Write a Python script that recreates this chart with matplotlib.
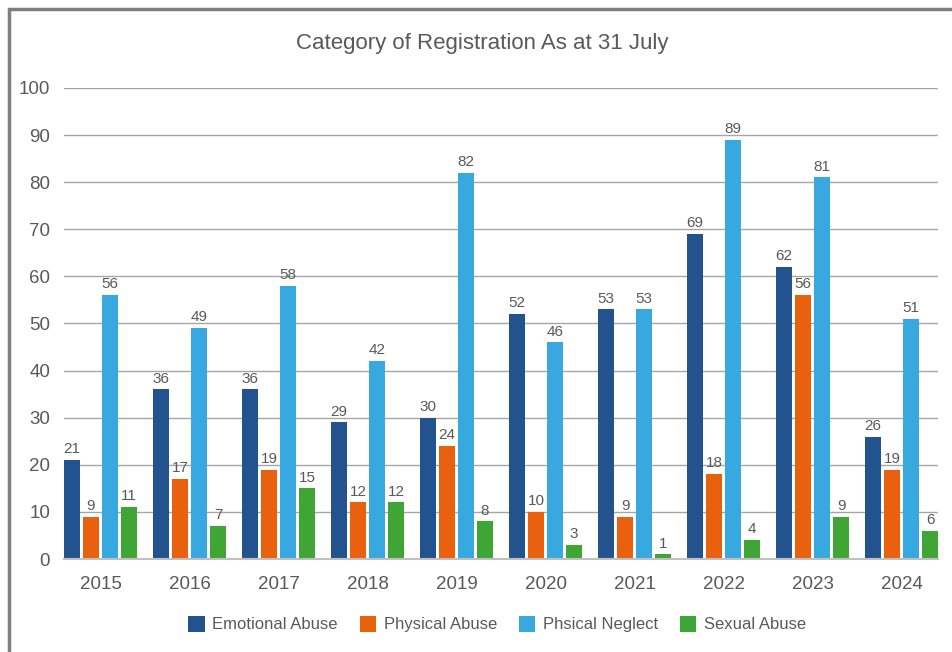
import matplotlib.pyplot as plt
import numpy as np
from matplotlib.patches import Rectangle, Patch

years = ['2015', '2016', '2017', '2018', '2019', '2020', '2021', '2022', '2023', '2024']
series_names = ['Emotional Abuse', 'Physical Abuse', 'Phsical Neglect', 'Sexual Abuse']
emotional = [21, 36, 36, 29, 30, 52, 53, 69, 62, 26]
physical = [9, 17, 19, 12, 24, 10, 9, 18, 56, 19]
neglect = [56, 49, 58, 42, 82, 46, 53, 89, 81, 51]
sexual = [11, 7, 15, 12, 8, 3, 1, 4, 9, 6]
colors = ['#23538f', '#e9600e', '#37a8e0', '#3fa535']

plt.rcParams['font.family'] = ['Liberation Sans', 'DejaVu Sans']
txt = '#595959'

fig = plt.figure(figsize=(9.53, 6.52), dpi=100)
# outer frame (runs off the right and bottom of the picture)
fig.patches.append(Rectangle((9 / 953, -0.1), 1.2, 1 - 9 / 652 + 0.1, transform=fig.transFigure,
                             fill=False, edgecolor='#7f7f7f', linewidth=2.5))

ax = fig.add_axes([64 / 953, 93 / 652, 874 / 953, 471 / 652])
x = np.arange(len(years))
step = 19 / 89
width = 16 / 89
data = [emotional, physical, neglect, sexual]
for i, vals in enumerate(data):
    pos = x + (i - 1.5) * step
    bars = ax.bar(pos, vals, width, color=colors[i], zorder=3, label=series_names[i])
    for b, v in zip(bars, vals):
        ax.text(b.get_x() + b.get_width() / 2, v + 0.8, str(v), ha='center', va='bottom',
                fontsize=11, color=txt, zorder=4)

ax.set_xlim(-0.41, len(years) - 1 + 0.41)
ax.set_ylim(0, 100)
ax.set_yticks(range(0, 101, 10))
ax.set_xticks(x)
ax.set_xticklabels(years)
ax.grid(axis='y', color='#a6a6a6', linewidth=1, zorder=0)
for s in ['top', 'right', 'left']:
    ax.spines[s].set_visible(False)
ax.spines['bottom'].set_color('#c0c0c0')
ax.spines['bottom'].set_linewidth(1.5)
ax.spines['bottom'].set_zorder(5)
ax.tick_params(axis='both', length=0, labelsize=13.5, colors=txt)
ax.tick_params(axis='y', pad=10)
ax.tick_params(axis='x', pad=12)

fig.text(482 / 953, 1 - 43 / 652, 'Category of Registration As at 31 July', ha='center', va='center',
         fontsize=16, color=txt)

handles = [Patch(facecolor=c) for c in colors]
fig.legend(handles, series_names, loc='center', bbox_to_anchor=(497 / 953, 1 - 624 / 652), ncol=4,
           frameon=False, fontsize=12, labelcolor=txt, handlelength=1.0, handleheight=1.1,
           handletextpad=0.45, columnspacing=1.3)

fig.savefig('out.png', dpi=100)
